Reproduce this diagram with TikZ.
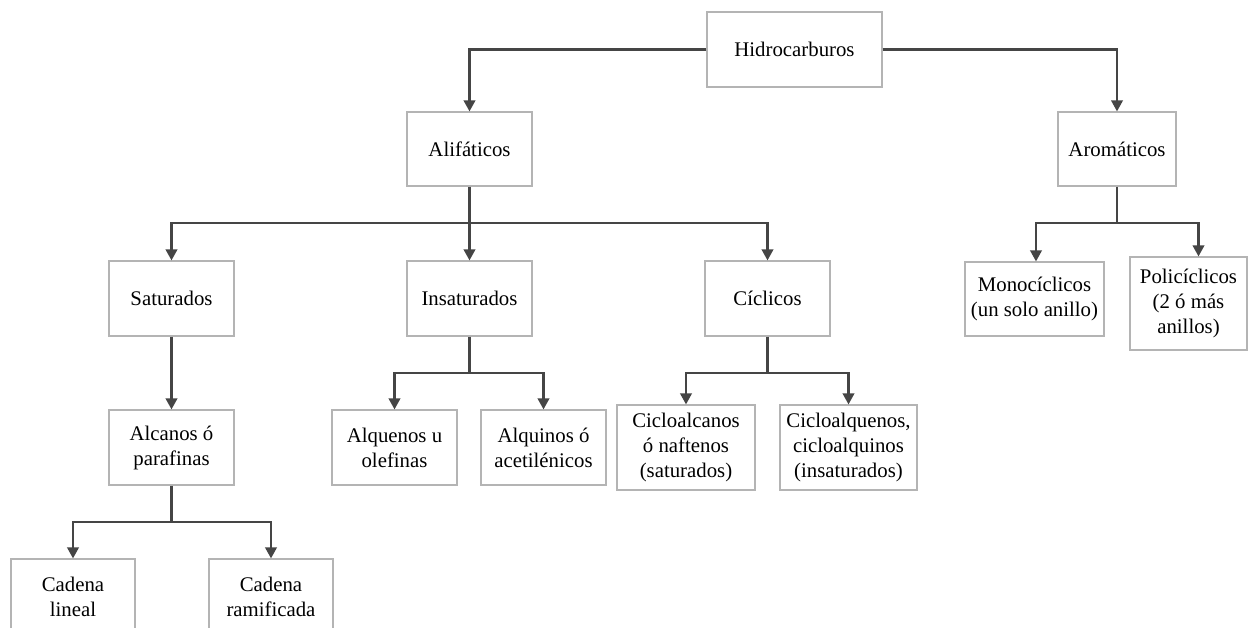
\documentclass[tikz,border=0pt]{standalone}
\usepackage{fontspec}
\setmainfont{Liberation Serif}
\usetikzlibrary{arrows.meta}
\definecolor{boxgray}{HTML}{B4B4B4}
\definecolor{linegray}{HTML}{454545}
\begin{document}
\begin{tikzpicture}[x=1pt,y=-1pt,
  box/.style={draw=boxgray, line width=1.2pt, fill=white, align=center, inner sep=0pt,
    font=\fontsize{20.8}{25}\selectfont},
  trunk/.style={draw=linegray, line width=2.2pt},
  conn/.style={trunk, -{Triangle[width=11.5pt,length=11pt]}}]
\useasboundingbox (0,0) rectangle (1253,628);
\fill[white] (0,0) rectangle (1253,628);
% nodes
\node[box, minimum width=175pt, minimum height=75pt] (hid) at (794.5,49.5) {Hidrocarburos};
\node[box, minimum width=125pt, minimum height=74pt] (ali) at (469.5,149) {Alifáticos};
\node[box, minimum width=118pt, minimum height=74pt] (aro) at (1117,149) {Aromáticos};
\node[box, minimum width=125pt, minimum height=75pt] (sat) at (171.5,298.5) {Saturados};
\node[box, minimum width=125pt, minimum height=75pt] (ins) at (469.5,298.5) {Insaturados};
\node[box, minimum width=125pt, minimum height=75pt] (cic) at (767.5,298.5) {Cíclicos};
\node[box, minimum width=139pt, minimum height=74pt] (mono) at (1034.5,299) {Monocíclicos\\(un solo anillo)};
\node[box, minimum width=117pt, minimum height=93pt] (poli) at (1188.5,303.5) {Policíclicos\\(2 ó más\\anillos)};
\node[box, minimum width=125pt, minimum height=75pt] (alc) at (171.5,447.5) {Alcanos ó\\parafinas};
\node[box, minimum width=125pt, minimum height=75pt] (alq) at (394.5,447.5) {Alquenos u\\olefinas};
\node[box, minimum width=125pt, minimum height=75pt] (alqi) at (543.5,447.5) {Alquinos ó\\acetilénicos};
\node[box, minimum width=138pt, minimum height=85pt] (cal) at (686,447.5) {Cicloalcanos\\ó naftenos\\(saturados)};
\node[box, minimum width=137pt, minimum height=85pt] (caq) at (848.5,447.5) {Cicloalquenos,\\cicloalquinos\\(insaturados)};
\node[box, minimum width=124pt, minimum height=75pt] (lin) at (73,596.5) {Cadena\\lineal};
\node[box, minimum width=124pt, minimum height=75pt] (ram) at (271,596.5) {Cadena\\ramificada};
% junctions
\coordinate (j1) at (469.5,223);
\coordinate (j2) at (1117,223);
\coordinate (j3) at (469.5,373);
\coordinate (j4) at (767.5,373);
\coordinate (j5) at (171.5,522);
% connectors
\draw[conn] (hid.west) -| (ali.north);
\draw[conn] (hid.east) -| (aro.north);
\draw[trunk] (ali.south) -- (j1);
\draw[conn] (j1) -| (sat.north);
\draw[conn] (j1) -- (ins.north);
\draw[conn] (j1) -| (cic.north);
\draw[trunk] (aro.south) -- (j2);
\draw[conn] (j2) -| ([xshift=1.5pt]mono.north);
\draw[conn] (j2) -| ([xshift=10pt]poli.north);
\draw[conn] (sat.south) -- (alc.north);
\draw[trunk] (ins.south) -- (j3);
\draw[conn] (j3) -| (alq.north);
\draw[conn] (j3) -| (alqi.north);
\draw[trunk] (cic.south) -- (j4);
\draw[conn] (j4) -| (cal.north);
\draw[conn] (j4) -| (caq.north);
\draw[trunk] (alc.south) -- (j5);
\draw[conn] (j5) -| (lin.north);
\draw[conn] (j5) -| (ram.north);
\end{tikzpicture}
\end{document}
